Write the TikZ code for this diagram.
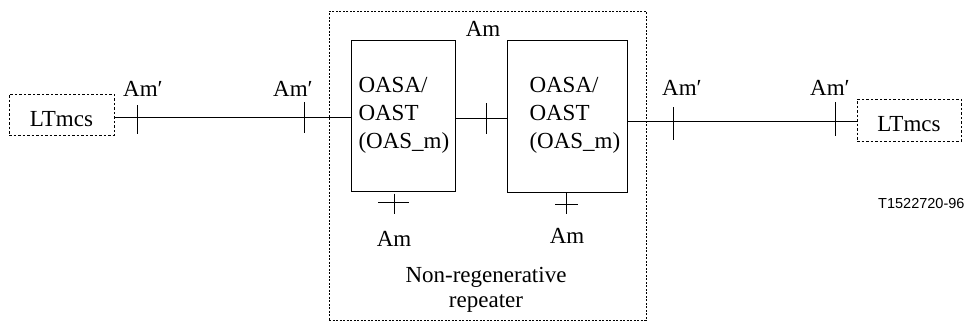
\documentclass[tikz,border=0pt]{standalone}
\usepackage{fontspec}
\setmainfont{Liberation Serif}
\newfontfamily\labelsans{Liberation Sans}
\begin{document}
\begin{tikzpicture}[x=1pt,y=-1pt,line width=1pt,
  txt/.style={font=\fontsize{23}{28}\selectfont,inner sep=0pt,anchor=base},
  txtw/.style={font=\fontsize{23}{28}\selectfont,inner sep=0pt,anchor=base west},
  ltbox/.style={draw,dash pattern=on 2.5pt off 2pt,font=\fontsize{23}{28}\selectfont,
    inner sep=0pt,text height=23pt,text depth=0pt},
  oasbox/.style={draw,inner sep=0pt},
  rep/.style={draw,dash pattern=on 2pt off 1.5pt,inner sep=0pt},
  tick/.style={line width=1pt}]
\useasboundingbox (0,0) rectangle (966,322);

% repeater frame
\node[rep,minimum width=317pt,minimum height=309pt] (repeater) at (487.5,165.5) {};

% terminal boxes
\node[ltbox,minimum width=105pt,minimum height=41pt] (ltl) at (61.5,114.5) {LTmcs};
\node[ltbox,minimum width=104pt,minimum height=42pt] (ltr) at (909,120) {LTmcs};

% amplifier boxes
\node[oasbox,minimum width=104pt,minimum height=151pt] (oasL) at (403,115.5) {};
\node[oasbox,minimum width=120pt,minimum height=152pt] (oasR) at (567,116) {};

\node[txtw] (l1a) at (358,92) {OASA/};
\node[txtw] (l1b) at (358,120) {OAST};
\node[txtw] (l1c) at (358,148) {(OAS\_m)};
\node[txtw] (r1a) at (529,92) {OASA/};
\node[txtw] (r1b) at (529,120) {OAST};
\node[txtw] (r1c) at (529,148) {(OAS\_m)};

% connectors
\draw (ltl.east |- 0,117) -- (oasL.west |- 0,117);
\draw (oasL.east |- 0,118) -- (oasR.west |- 0,118);
\draw (oasR.east |- 0,121) -- (ltr.west |- 0,121);

% ticks on the line
\coordinate (t1) at (137,117);
\coordinate (t2) at (304,117);
\coordinate (t3) at (486,118);
\coordinate (t4) at (673,121);
\coordinate (t5) at (835,121);
\draw[tick] ([yshift=12pt]t1) -- ([yshift=-17pt]t1);
\draw[tick] ([yshift=15pt]t2) -- ([yshift=-16pt]t2);
\draw[tick] ([yshift=15pt]t3) -- ([yshift=-16pt]t3);
\draw[tick] ([yshift=14pt]t4) -- ([yshift=-19pt]t4);
\draw[tick] ([yshift=19pt]t5) -- ([yshift=-15pt]t5);

% bottom access points
\coordinate (bL) at (394,214);
\coordinate (bR) at (566,214);
\draw (oasL.south -| bL) ++(0,2) -- (bL);
\draw (oasR.south -| bR) -- (bR);
\draw (378,202) -- (409,202);
\draw (555,204) -- (578,204);

% labels
\node[txt] (am1) at (143,96) {Am′};
\node[txt] (am2) at (293,96) {Am′};
\node[txt] (am3) at (682,95) {Am′};
\node[txt] (am4) at (830,95) {Am′};
\node[txt] (amtop) at (483,36) {Am};
\node[txt] (amL) at (394,246) {Am};
\node[txt] (amR) at (567,243) {Am};
\node[txt] (nr1) at (486,282) {Non-regenerative};
\node[txt] (nr2) at (486,307) {repeater};
\node[font=\labelsans\fontsize{14.5}{17}\selectfont,inner sep=0pt,anchor=base east] (ref) at (965,208) {T1522720-96};
\end{tikzpicture}
\end{document}
